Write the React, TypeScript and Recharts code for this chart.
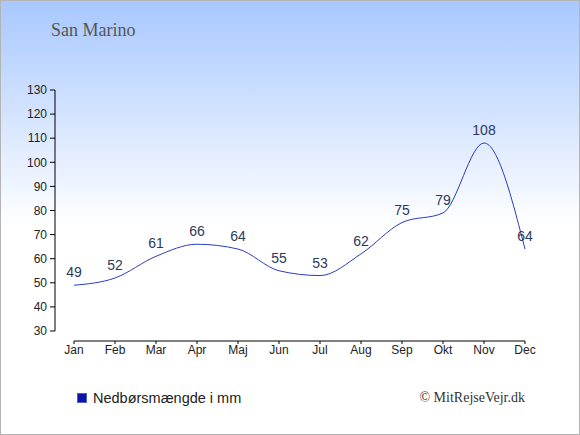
import React from "react";
import { LineChart, Line, XAxis, YAxis, LabelList } from "recharts";

const months = ["Jan", "Feb", "Mar", "Apr", "Maj", "Jun", "Jul", "Aug", "Sep", "Okt", "Nov", "Dec"];
const rainfall = [49, 52, 61, 66, 64, 55, 53, 62, 75, 79, 108, 64];
const yTicks = [30, 40, 50, 60, 70, 80, 90, 100, 110, 120, 130];
const title = "San Marino";
const legendLabel = "Nedbørsmængde i mm";
const credit = "© MitRejseVejr.dk";

const data = months.map((m, i) => ({ month: m, value: rainfall[i] }));

export default function App() {
  return (
    <div
      style={{
        position: "absolute",
        left: 0,
        top: 0,
        width: 580,
        height: 435,
        boxSizing: "border-box",
        border: "1px solid #b4b4b4",
        background: "linear-gradient(to bottom, #a8c8ff 0%, #ffffff 52%, #ffffff 100%)",
        overflow: "hidden",
      }}
    >
      <style>{`
        .recharts-yAxis { transform: translateX(-19px); }
        .recharts-xAxis { transform: translateY(10px); }
      `}</style>
      <div
        style={{
          position: "absolute",
          left: 50,
          top: 19,
          fontFamily: "'Liberation Serif', serif",
          fontSize: 18,
          color: "#555555",
          whiteSpace: "nowrap",
        }}
      >
        {title}
      </div>
      <div style={{ position: "absolute", left: -1, top: -1 }}>
        <LineChart width={580} height={435} data={data} margin={{ top: 90, right: 55, bottom: 74, left: 34 }}>
          <XAxis
            dataKey="month"
            padding={{ left: 0, right: 0 }}
            height={30}
            tick={{ fill: "#222222", fontSize: 12, fontFamily: "'Liberation Sans', Arial, sans-serif", dy: 10 }}
            tickSize={3}
            tickMargin={1}
            stroke="#000000"
            interval={0}
          />
          <YAxis
            width={40}
            domain={[30, 130]}
            ticks={yTicks}
            interval={0}
            tick={{ fill: "#222222", fontSize: 12, fontFamily: "'Liberation Sans', Arial, sans-serif", dx: -19 }}
            tickSize={5}
            tickMargin={3}
            stroke="#000000"
          />
          <Line
            type="monotone"
            dataKey="value"
            stroke="#2a3cc0"
            strokeWidth={1}
            dot={false}
            isAnimationActive={false}
          >
            <LabelList
              dataKey="value"
              position="top"
              offset={8}
              fill="#2a3a5c"
              fontSize={14}
              fontFamily="'Liberation Sans', Arial, sans-serif"
            />
          </Line>
        </LineChart>
      </div>
      <div
        style={{
          position: "absolute",
          left: 76,
          top: 389,
          display: "flex",
          alignItems: "center",
          fontFamily: "'Liberation Sans', Arial, sans-serif",
          fontSize: 14.5,
          color: "#222222",
          whiteSpace: "nowrap",
        }}
      >
        <span
          style={{
            display: "inline-block",
            width: 10,
            height: 10,
            background: "#0a14aa",
            border: "1px solid #5060c8",
            boxSizing: "border-box",
            marginRight: 6,
          }}
        />
        {legendLabel}
      </div>
      <div
        style={{
          position: "absolute",
          right: 580 - 526,
          top: 389,
          fontFamily: "'Liberation Serif', serif",
          fontSize: 14,
          color: "#333333",
          whiteSpace: "nowrap",
        }}
      >
        {credit}
      </div>
    </div>
  );
}
